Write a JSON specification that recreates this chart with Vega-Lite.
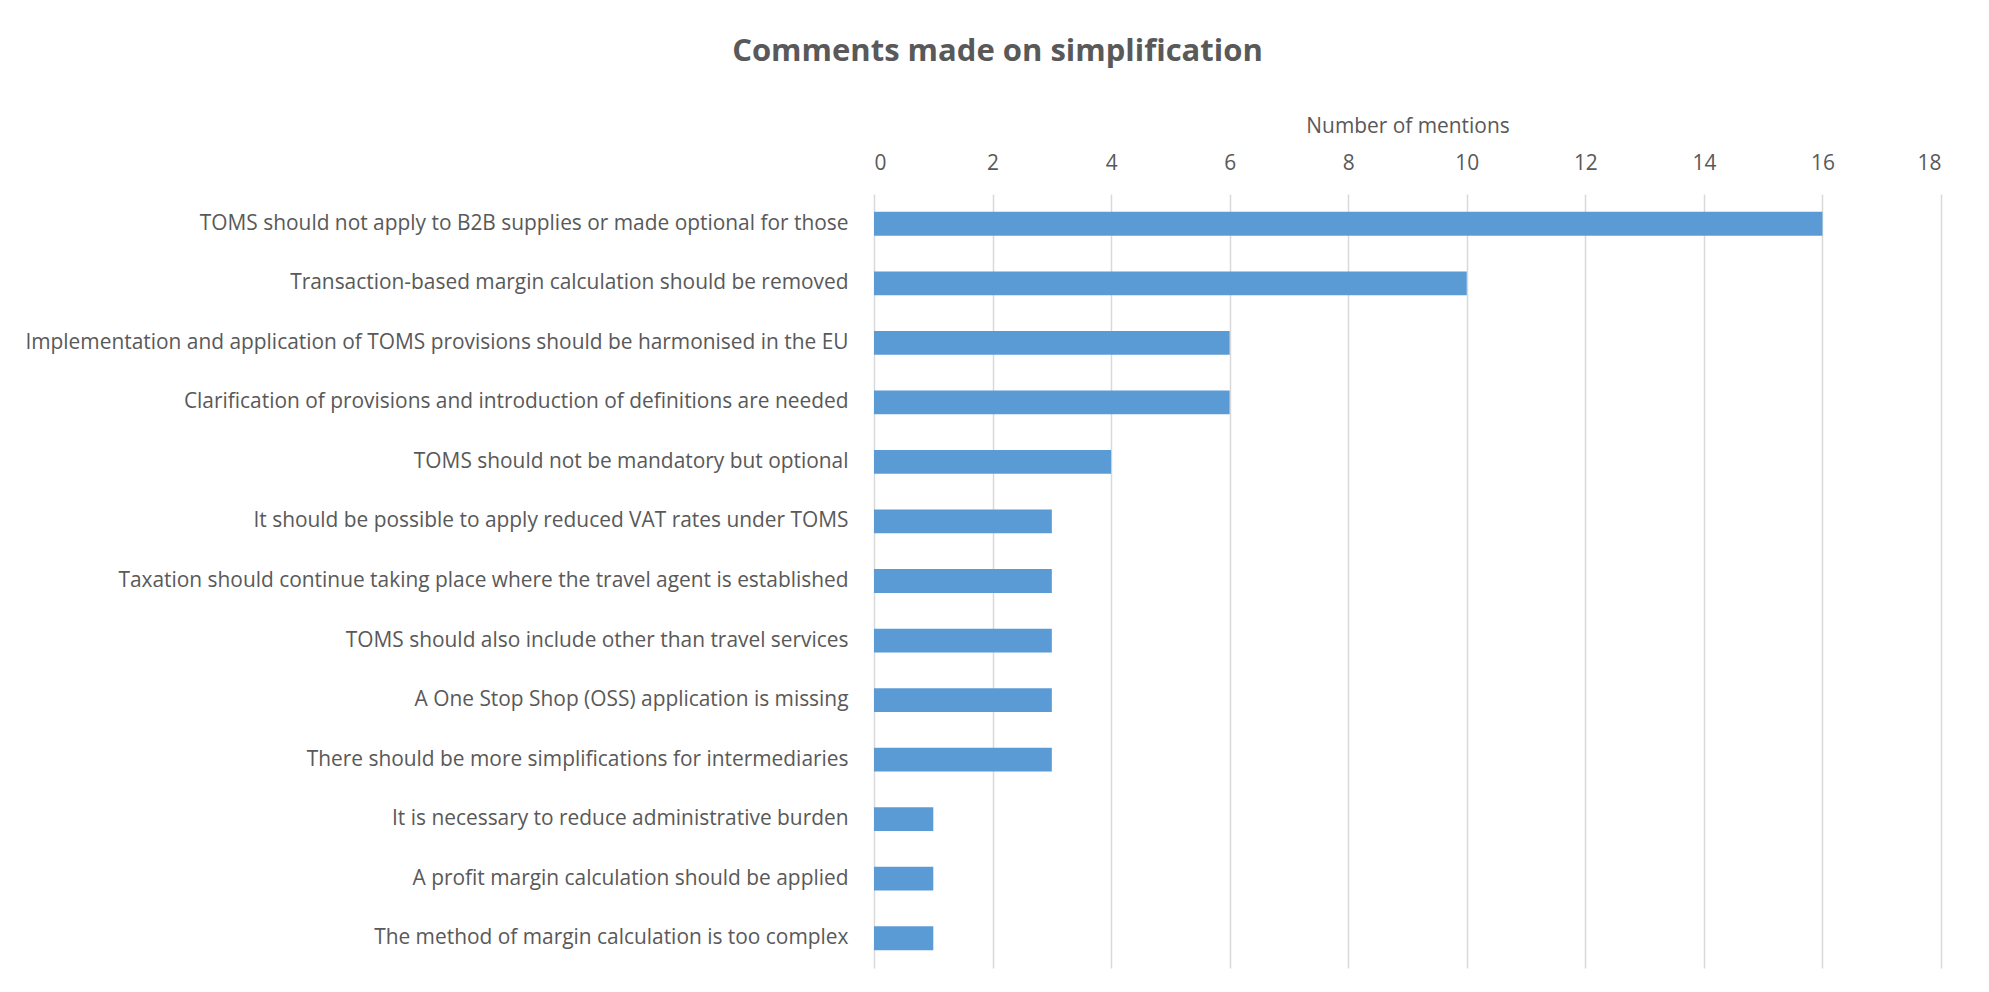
{
  "$schema": "https://vega.github.io/schema/vega-lite/v6.json",
  "autosize": {"type": "none"},
  "width": 1067,
  "height": 774,
  "padding": {"left": 874, "top": 194, "right": 48, "bottom": 24},
  "background": "white",
  "title": {
    "text": "Comments made on simplification",
    "font": "Open Sans",
    "fontSize": 31,
    "fontWeight": "bold",
    "color": "#595959",
    "anchor": "middle",
    "dx": -410,
    "offset": 47
  },
  "data": {
    "values": [
      {"comment": "TOMS should not apply to B2B supplies or made optional for those", "mentions": 16},
      {"comment": "Transaction-based margin calculation should be removed", "mentions": 10},
      {"comment": "Implementation and application of TOMS provisions should be harmonised in the EU", "mentions": 6},
      {"comment": "Clarification of provisions and introduction of definitions are needed", "mentions": 6},
      {"comment": "TOMS should not be mandatory but optional", "mentions": 4},
      {"comment": "It should be possible to apply reduced VAT rates under TOMS", "mentions": 3},
      {"comment": "Taxation should continue taking place where the travel agent is established", "mentions": 3},
      {"comment": "TOMS should also include other than travel services", "mentions": 3},
      {"comment": "A One Stop Shop (OSS) application is missing", "mentions": 3},
      {"comment": "There should be more simplifications for intermediaries", "mentions": 3},
      {"comment": "It is necessary to reduce administrative burden", "mentions": 1},
      {"comment": "A profit margin calculation should be applied", "mentions": 1},
      {"comment": "The method of margin calculation is too complex", "mentions": 1}
    ]
  },
  "mark": {"type": "bar", "color": "#5B9BD5"},
  "encoding": {
    "y": {
      "field": "comment",
      "type": "nominal",
      "sort": null,
      "scale": {"paddingInner": 0.6, "paddingOuter": 0.3},
      "axis": {
        "title": null,
        "domain": false,
        "ticks": false,
        "tickSize": 0,
        "grid": false,
        "labelPadding": 26,
        "labelLimit": 1000,
        "labelFont": "Open Sans",
        "labelFontSize": 20.9,
        "labelColor": "#595959"
      }
    },
    "x": {
      "field": "mentions",
      "type": "quantitative",
      "scale": {"domain": [0, 18], "nice": false},
      "axis": {
        "orient": "top",
        "title": "Number of mentions",
        "values": [0, 2, 4, 6, 8, 10, 12, 14, 16, 18],
        "domain": false,
        "ticks": false,
        "tickSize": 0,
        "grid": true,
        "gridColor": "#D9D9D9",
        "gridWidth": 1.5,
        "labelPadding": 21,
        "labelFont": "Open Sans",
        "labelFontSize": 20.9,
        "labelColor": "#595959",
        "titleFont": "Open Sans",
        "titleFontSize": 20.9,
        "titleFontWeight": "normal",
        "titleColor": "#595959",
        "titlePadding": 16
      }
    }
  },
  "config": {"view": {"stroke": null}}
}
